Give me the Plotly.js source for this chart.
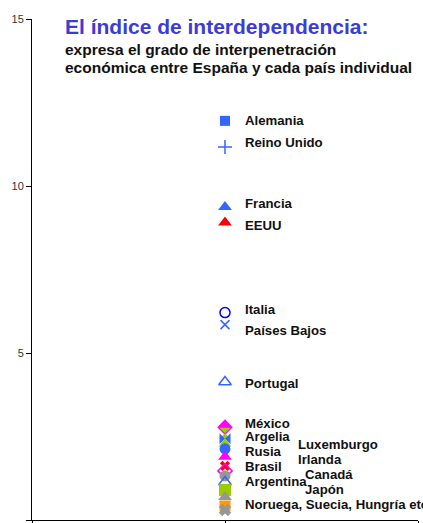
<!DOCTYPE html>
<html><head><meta charset="utf-8">
<script src="https://cdn.plot.ly/plotly-3.0.1.min.js"></script>
<style>html,body{margin:0;padding:0;background:#fff}#chart{width:423px;height:523px}</style>
</head><body><div id="chart"></div>
<script>
// Data
const countries = ["Alemania","Reino Unido","Francia","EEUU","Italia","Países Bajos","Portugal",
  "México","Argelia","Luxemburgo","Rusia","Irlanda","Brasil","Canadá","Argentina","Japón","Otro","Noruega","Suecia","Hungría"];
const values = [11.95,11.17,9.37,8.91,6.21,5.85,4.13,
  2.78,2.60,2.43,2.28,2.13,1.89,1.62,1.47,1.32,1.14,0.90,0.69,0.42];
const extraName = ["etc."];
const extraValue = [0.30];

const labelTexts = ["Alemania","Reino Unido","Francia","EEUU","Italia","Países Bajos","Portugal",
  "México","Argelia","Luxemburgo","Rusia","Irlanda","Brasil","Canadá","Argentina","Japón","Noruega, Suecia, Hungría etc"];
const labelY = [11.96,11.30,9.49,8.83,6.29,5.66,4.10,2.90,2.49,2.25,2.04,1.80,1.59,1.35,1.14,0.90,0.45];
const labelCol = [0,0,0,0,0,0,0,0,0,1,0,1,0,2,0,2,0];

const titleText = "El índice de interdependencia:";
const subtitleLines = ["expresa el grado de interpenetración","económica entre España y cada país individual"];

const yTicks = [0,5,10,15];

// Styles
const blue="#3366FF", red="#FF0000", dblue="#0000FF", mag="#FF00FF", yg="#99CC00", grey="#969696", orange="#FF9900";
const styles = [
  {s:"square",c:blue,z:10},{s:"cross-thin-open",c:blue,z:10},{s:"triangle-up",c:blue,z:12},{s:"triangle-up",c:red,z:12},
  {s:"circle-open",c:dblue,z:10},{s:"x-thin-open",c:blue,z:9},{s:"triangle-up-open",c:blue,z:11},
  {s:"diamond",c:mag,z:12},{s:"hourglass",c:yg,z:11},{s:"bowtie",c:blue,z:11},{s:"triangle-up",c:yg,z:11},
  {s:"circle",c:blue,z:11},{s:"triangle-up",c:mag,z:12},{s:"x",c:red,z:9},{s:"diamond-open",c:mag,z:11},
  {s:"circle",c:grey,z:11},{s:"triangle-up-open",c:blue,z:11},{s:"square",c:yg,z:12},{s:"triangle-up",c:grey,z:12},
  {s:"square-x",c:orange,z:11}
];
const extraStyle = [{s:"x",c:grey,z:10}];

const traces = [];
countries.forEach((n,i)=>{
  const st = styles[i];
  traces.push({x:[1],y:[values[i]],name:n,type:"scatter",mode:"markers",
    marker:{symbol:st.s,color:st.c,size:st.z,line:{color:st.c,width:st.s.indexOf("open")>=0||st.s.indexOf("thin")>=0?1.5:0}}});
});
extraName.forEach((n,i)=>{
  const st = extraStyle[i];
  traces.push({x:[1],y:[extraValue[i]],name:n,type:"scatter",mode:"markers",
    marker:{symbol:st.s,color:st.c,size:st.z,line:{color:st.c,width:1}}});
});

const FF = "Liberation Sans, Arial, sans-serif";
const colShift = [20,73,80];
const ann = labelTexts.map((t,i)=>({x:1,y:labelY[i],xref:"x",yref:"y",text:"<b>"+t+"</b>",showarrow:false,
  xanchor:"left",yanchor:"middle",xshift:colShift[labelCol[i]]-2,
  font:{family:FF,size:13.2,color:"#111"}}));
ann.push({xref:"paper",yref:"paper",x:0.0803,y:0.986,xanchor:"left",yanchor:"middle",showarrow:false,
  text:"<b>"+titleText+"</b>",font:{family:FF,size:21,color:"#3B3BD6"}});
const subY=[0.940,0.904];
subtitleLines.forEach((t,i)=>ann.push({xref:"paper",yref:"paper",x:0.0803,y:subY[i],xanchor:"left",yanchor:"middle",showarrow:false,
  text:"<b>"+t+"</b>",font:{family:FF,size:15.5,color:"#111"}}));

const layout = {
  width:423,height:523,margin:{l:32,r:5,t:19,b:3},
  paper_bgcolor:"#fff",plot_bgcolor:"#fff",showlegend:false,
  xaxis:{range:[0,2],tickvals:[0,1,2],showticklabels:false,ticks:"outside",ticklen:4,tickcolor:"#000",
    showline:true,linecolor:"#000",linewidth:1,showgrid:false,zeroline:false,fixedrange:true},
  yaxis:{range:[0,15],tickvals:yTicks,ticktext:yTicks.map(String),ticks:"outside",ticklen:5,tickcolor:"#000",
    showline:true,linecolor:"#000",linewidth:1,showgrid:false,zeroline:false,
    tickfont:{family:FF,size:11,color:"#333"}},
  annotations:ann
};
Plotly.newPlot("chart",traces,layout,{displayModeBar:false,staticPlot:true});
</script></body></html>
